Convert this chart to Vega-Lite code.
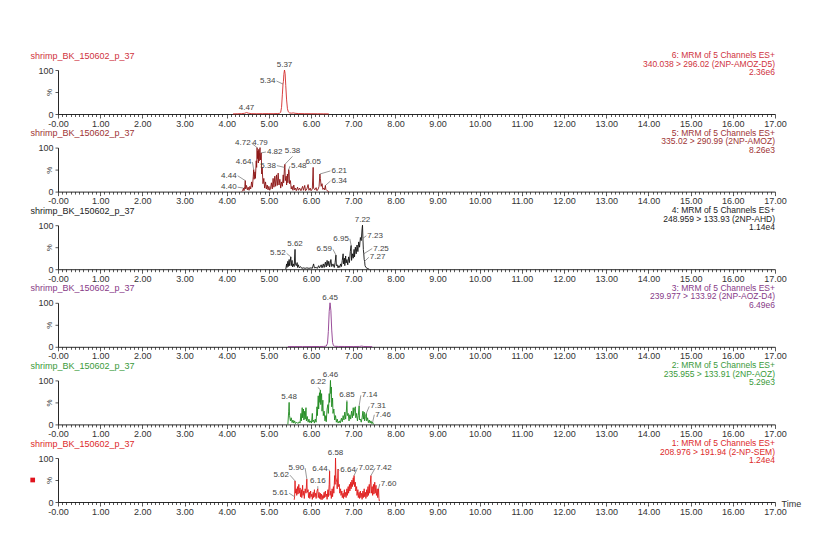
{
  "$schema": "https://vega.github.io/schema/vega-lite/v6.json",
  "padding": {"left": 30, "top": 51, "right": 5, "bottom": 5},
  "bounds": "flush",
  "spacing": 33.6,
  "config": {
    "font": "Liberation Sans",
    "view": {"stroke": null},
    "axis": {"grid": false, "domainColor": "#111", "domainWidth": 0.9, "tickColor": "#111", "tickWidth": 0.7, "labelColor": "#333", "labelFontSize": 9, "labelFont": "Liberation Sans", "titleFont": "Liberation Sans", "titleFontWeight": "normal", "titleFontSize": 9},
    "axisY": {"tickSize": 3, "labelPadding": 2, "titleAngle": 0, "titleAlign": "left", "titleBaseline": "middle", "titleX": -28, "titleY": -15, "labelOverlap": false},
    "title": {"font": "Liberation Sans", "fontSize": 8.5, "fontWeight": "normal", "anchor": "end", "frame": "group", "baseline": "bottom", "offset": -25.5, "lineHeight": 8.5},
    "text": {"font": "Liberation Sans"}
  },
  "datasets": {
    "p1": [{"t":4.15,"v":0.3},{"t":4.25,"v":0.5},{"t":4.35,"v":0.8},{"t":4.42,"v":1.5},{"t":4.47,"v":3.2},{"t":4.52,"v":1.8},{"t":4.58,"v":0.8},{"t":4.7,"v":0.6},{"t":4.85,"v":0.7},{"t":5.0,"v":0.8},{"t":5.1,"v":0.7},{"t":5.2,"v":1.0},{"t":5.25,"v":1.5},{"t":5.28,"v":4},{"t":5.30,"v":15},{"t":5.32,"v":45},{"t":5.335,"v":68},{"t":5.345,"v":74},{"t":5.355,"v":90},{"t":5.37,"v":100},{"t":5.385,"v":92},{"t":5.40,"v":65},{"t":5.42,"v":32},{"t":5.44,"v":12},{"t":5.46,"v":5},{"t":5.49,"v":2.5},{"t":5.53,"v":1.8},{"t":5.58,"v":2.5},{"t":5.62,"v":1.6},{"t":5.7,"v":1.0},{"t":5.85,"v":0.7},{"t":6.0,"v":0.6},{"t":6.15,"v":0.5},{"t":6.3,"v":0.4},{"t":6.42,"v":0.3}],
    "p2": [{"t":4.36,"v":0},{"t":4.38,"v":3},{"t":4.40,"v":8},{"t":4.41,"v":2},{"t":4.43,"v":12},{"t":4.44,"v":25},{"t":4.45,"v":6},{"t":4.47,"v":14},{"t":4.49,"v":4},{"t":4.51,"v":10},{"t":4.53,"v":3},{"t":4.55,"v":12},{"t":4.57,"v":6},{"t":4.59,"v":22},{"t":4.61,"v":10},{"t":4.63,"v":35},{"t":4.64,"v":50},{"t":4.65,"v":28},{"t":4.67,"v":45},{"t":4.68,"v":30},{"t":4.70,"v":70},{"t":4.71,"v":55},{"t":4.72,"v":100},{"t":4.73,"v":75},{"t":4.74,"v":92},{"t":4.75,"v":65},{"t":4.76,"v":96},{"t":4.77,"v":70},{"t":4.78,"v":88},{"t":4.79,"v":100},{"t":4.80,"v":72},{"t":4.81,"v":85},{"t":4.82,"v":88},{"t":4.83,"v":40},{"t":4.84,"v":55},{"t":4.86,"v":18},{"t":4.88,"v":30},{"t":4.90,"v":8},{"t":4.92,"v":22},{"t":4.94,"v":6},{"t":4.96,"v":15},{"t":4.98,"v":4},{"t":5.00,"v":12},{"t":5.02,"v":3},{"t":5.04,"v":8},{"t":5.06,"v":20},{"t":5.08,"v":6},{"t":5.10,"v":30},{"t":5.12,"v":10},{"t":5.14,"v":35},{"t":5.16,"v":12},{"t":5.18,"v":38},{"t":5.20,"v":14},{"t":5.22,"v":42},{"t":5.24,"v":15},{"t":5.26,"v":28},{"t":5.28,"v":8},{"t":5.30,"v":22},{"t":5.32,"v":12},{"t":5.34,"v":38},{"t":5.35,"v":20},{"t":5.37,"v":55},{"t":5.38,"v":62},{"t":5.39,"v":25},{"t":5.41,"v":35},{"t":5.42,"v":15},{"t":5.44,"v":40},{"t":5.45,"v":20},{"t":5.47,"v":50},{"t":5.48,"v":45},{"t":5.49,"v":18},{"t":5.51,"v":25},{"t":5.53,"v":6},{"t":5.55,"v":12},{"t":5.57,"v":3},{"t":5.59,"v":15},{"t":5.61,"v":4},{"t":5.63,"v":8},{"t":5.65,"v":2},{"t":5.68,"v":10},{"t":5.70,"v":3},{"t":5.73,"v":8},{"t":5.76,"v":2},{"t":5.80,"v":12},{"t":5.82,"v":3},{"t":5.85,"v":14},{"t":5.87,"v":2},{"t":5.90,"v":6},{"t":5.93,"v":16},{"t":5.95,"v":3},{"t":5.98,"v":8},{"t":6.00,"v":2},{"t":6.03,"v":6},{"t":6.05,"v":55},{"t":6.06,"v":8},{"t":6.09,"v":4},{"t":6.12,"v":9},{"t":6.14,"v":2},{"t":6.17,"v":6},{"t":6.19,"v":12},{"t":6.21,"v":40},{"t":6.22,"v":30},{"t":6.24,"v":12},{"t":6.26,"v":18},{"t":6.28,"v":5},{"t":6.30,"v":8},{"t":6.32,"v":4},{"t":6.34,"v":14},{"t":6.35,"v":5},{"t":6.37,"v":3},{"t":6.40,"v":1},{"t":6.42,"v":0}],
    "p3": [{"t":5.40,"v":0},{"t":5.42,"v":12},{"t":5.43,"v":4},{"t":5.45,"v":18},{"t":5.46,"v":6},{"t":5.48,"v":22},{"t":5.49,"v":8},{"t":5.50,"v":15},{"t":5.52,"v":28},{"t":5.53,"v":8},{"t":5.55,"v":20},{"t":5.56,"v":5},{"t":5.58,"v":12},{"t":5.60,"v":6},{"t":5.62,"v":45},{"t":5.63,"v":10},{"t":5.65,"v":8},{"t":5.67,"v":15},{"t":5.68,"v":4},{"t":5.70,"v":10},{"t":5.72,"v":3},{"t":5.75,"v":6},{"t":5.78,"v":2},{"t":5.82,"v":3},{"t":5.86,"v":2},{"t":5.90,"v":3},{"t":5.95,"v":2},{"t":6.00,"v":3},{"t":6.03,"v":2},{"t":6.06,"v":12},{"t":6.08,"v":3},{"t":6.12,"v":4},{"t":6.15,"v":2},{"t":6.18,"v":8},{"t":6.20,"v":3},{"t":6.24,"v":10},{"t":6.26,"v":3},{"t":6.29,"v":12},{"t":6.31,"v":4},{"t":6.34,"v":16},{"t":6.36,"v":5},{"t":6.38,"v":20},{"t":6.40,"v":8},{"t":6.42,"v":18},{"t":6.44,"v":5},{"t":6.47,"v":22},{"t":6.49,"v":6},{"t":6.52,"v":12},{"t":6.55,"v":4},{"t":6.57,"v":15},{"t":6.59,"v":32},{"t":6.60,"v":8},{"t":6.62,"v":10},{"t":6.64,"v":3},{"t":6.66,"v":8},{"t":6.68,"v":4},{"t":6.70,"v":12},{"t":6.72,"v":6},{"t":6.74,"v":20},{"t":6.76,"v":35},{"t":6.77,"v":12},{"t":6.79,"v":25},{"t":6.80,"v":8},{"t":6.82,"v":30},{"t":6.83,"v":14},{"t":6.85,"v":22},{"t":6.87,"v":10},{"t":6.89,"v":28},{"t":6.91,"v":15},{"t":6.93,"v":40},{"t":6.95,"v":54},{"t":6.96,"v":20},{"t":6.98,"v":35},{"t":7.00,"v":25},{"t":7.02,"v":45},{"t":7.03,"v":28},{"t":7.05,"v":50},{"t":7.07,"v":35},{"t":7.09,"v":55},{"t":7.11,"v":40},{"t":7.13,"v":62},{"t":7.15,"v":50},{"t":7.17,"v":72},{"t":7.19,"v":65},{"t":7.21,"v":92},{"t":7.22,"v":100},{"t":7.23,"v":70},{"t":7.24,"v":45},{"t":7.25,"v":35},{"t":7.26,"v":22},{"t":7.27,"v":18},{"t":7.28,"v":8},{"t":7.30,"v":4},{"t":7.33,"v":2},{"t":7.36,"v":1},{"t":7.38,"v":0}],
    "p4": [{"t":5.45,"v":0.4},{"t":5.6,"v":0.6},{"t":5.8,"v":0.5},{"t":6.0,"v":0.6},{"t":6.2,"v":0.7},{"t":6.3,"v":0.8},{"t":6.36,"v":1.5},{"t":6.39,"v":8},{"t":6.41,"v":35},{"t":6.43,"v":80},{"t":6.45,"v":100},{"t":6.47,"v":82},{"t":6.49,"v":38},{"t":6.51,"v":10},{"t":6.53,"v":3},{"t":6.56,"v":1.2},{"t":6.65,"v":0.8},{"t":6.8,"v":0.7},{"t":7.0,"v":0.6},{"t":7.15,"v":0.8},{"t":7.2,"v":1.6},{"t":7.25,"v":0.7},{"t":7.35,"v":0.5},{"t":7.45,"v":0.4}],
    "p5": [{"t":5.45,"v":0},{"t":5.47,"v":30},{"t":5.48,"v":50},{"t":5.49,"v":20},{"t":5.51,"v":8},{"t":5.53,"v":15},{"t":5.55,"v":4},{"t":5.57,"v":10},{"t":5.59,"v":3},{"t":5.61,"v":8},{"t":5.63,"v":2},{"t":5.66,"v":5},{"t":5.69,"v":2},{"t":5.72,"v":6},{"t":5.74,"v":3},{"t":5.76,"v":25},{"t":5.77,"v":8},{"t":5.79,"v":38},{"t":5.80,"v":15},{"t":5.82,"v":35},{"t":5.83,"v":10},{"t":5.85,"v":30},{"t":5.86,"v":12},{"t":5.88,"v":38},{"t":5.89,"v":8},{"t":5.91,"v":18},{"t":5.93,"v":5},{"t":5.95,"v":12},{"t":5.97,"v":4},{"t":5.99,"v":8},{"t":6.01,"v":3},{"t":6.03,"v":25},{"t":6.04,"v":6},{"t":6.06,"v":10},{"t":6.08,"v":3},{"t":6.10,"v":12},{"t":6.12,"v":5},{"t":6.14,"v":40},{"t":6.15,"v":20},{"t":6.17,"v":65},{"t":6.18,"v":35},{"t":6.20,"v":72},{"t":6.21,"v":50},{"t":6.22,"v":78},{"t":6.23,"v":45},{"t":6.25,"v":70},{"t":6.26,"v":30},{"t":6.28,"v":55},{"t":6.29,"v":20},{"t":6.31,"v":30},{"t":6.33,"v":8},{"t":6.35,"v":20},{"t":6.36,"v":6},{"t":6.38,"v":35},{"t":6.40,"v":45},{"t":6.41,"v":25},{"t":6.43,"v":70},{"t":6.44,"v":50},{"t":6.46,"v":100},{"t":6.47,"v":70},{"t":6.48,"v":85},{"t":6.49,"v":40},{"t":6.51,"v":60},{"t":6.52,"v":25},{"t":6.54,"v":35},{"t":6.56,"v":10},{"t":6.58,"v":20},{"t":6.60,"v":5},{"t":6.62,"v":12},{"t":6.64,"v":3},{"t":6.67,"v":8},{"t":6.69,"v":3},{"t":6.72,"v":14},{"t":6.74,"v":6},{"t":6.76,"v":20},{"t":6.78,"v":10},{"t":6.80,"v":28},{"t":6.82,"v":12},{"t":6.84,"v":35},{"t":6.85,"v":52},{"t":6.86,"v":20},{"t":6.88,"v":25},{"t":6.90,"v":8},{"t":6.92,"v":22},{"t":6.94,"v":12},{"t":6.96,"v":30},{"t":6.98,"v":15},{"t":7.00,"v":38},{"t":7.01,"v":20},{"t":7.03,"v":35},{"t":7.05,"v":40},{"t":7.06,"v":15},{"t":7.08,"v":25},{"t":7.10,"v":8},{"t":7.12,"v":20},{"t":7.14,"v":42},{"t":7.15,"v":10},{"t":7.17,"v":12},{"t":7.19,"v":5},{"t":7.21,"v":15},{"t":7.23,"v":30},{"t":7.24,"v":12},{"t":7.26,"v":28},{"t":7.27,"v":8},{"t":7.29,"v":18},{"t":7.31,"v":25},{"t":7.32,"v":8},{"t":7.34,"v":15},{"t":7.36,"v":4},{"t":7.38,"v":10},{"t":7.40,"v":3},{"t":7.42,"v":8},{"t":7.44,"v":2},{"t":7.46,"v":5},{"t":7.48,"v":0}],
    "p6": [{"t":5.60,"v":5},{"t":5.61,"v":12},{"t":5.62,"v":48},{"t":5.63,"v":20},{"t":5.65,"v":30},{"t":5.66,"v":15},{"t":5.68,"v":35},{"t":5.69,"v":18},{"t":5.71,"v":40},{"t":5.72,"v":20},{"t":5.74,"v":32},{"t":5.75,"v":12},{"t":5.77,"v":28},{"t":5.78,"v":10},{"t":5.80,"v":38},{"t":5.81,"v":15},{"t":5.83,"v":25},{"t":5.84,"v":8},{"t":5.86,"v":30},{"t":5.88,"v":20},{"t":5.90,"v":52},{"t":5.91,"v":22},{"t":5.93,"v":28},{"t":5.94,"v":10},{"t":5.96,"v":22},{"t":5.97,"v":8},{"t":5.99,"v":25},{"t":6.00,"v":12},{"t":6.02,"v":18},{"t":6.03,"v":6},{"t":6.05,"v":22},{"t":6.06,"v":10},{"t":6.08,"v":28},{"t":6.09,"v":12},{"t":6.11,"v":20},{"t":6.12,"v":8},{"t":6.14,"v":25},{"t":6.16,"v":30},{"t":6.17,"v":10},{"t":6.19,"v":22},{"t":6.20,"v":8},{"t":6.22,"v":20},{"t":6.23,"v":6},{"t":6.25,"v":18},{"t":6.26,"v":5},{"t":6.28,"v":15},{"t":6.29,"v":8},{"t":6.31,"v":22},{"t":6.32,"v":10},{"t":6.34,"v":25},{"t":6.35,"v":12},{"t":6.37,"v":18},{"t":6.38,"v":6},{"t":6.40,"v":28},{"t":6.41,"v":12},{"t":6.43,"v":40},{"t":6.44,"v":70},{"t":6.45,"v":15},{"t":6.47,"v":25},{"t":6.48,"v":8},{"t":6.50,"v":30},{"t":6.51,"v":12},{"t":6.53,"v":35},{"t":6.54,"v":20},{"t":6.56,"v":60},{"t":6.57,"v":40},{"t":6.58,"v":100},{"t":6.59,"v":55},{"t":6.61,"v":45},{"t":6.62,"v":30},{"t":6.64,"v":75},{"t":6.65,"v":35},{"t":6.67,"v":40},{"t":6.68,"v":20},{"t":6.70,"v":30},{"t":6.71,"v":15},{"t":6.73,"v":25},{"t":6.74,"v":10},{"t":6.76,"v":20},{"t":6.77,"v":8},{"t":6.79,"v":28},{"t":6.80,"v":12},{"t":6.82,"v":22},{"t":6.83,"v":10},{"t":6.85,"v":30},{"t":6.86,"v":15},{"t":6.88,"v":35},{"t":6.89,"v":20},{"t":6.91,"v":40},{"t":6.92,"v":25},{"t":6.94,"v":45},{"t":6.95,"v":30},{"t":6.97,"v":50},{"t":6.98,"v":35},{"t":7.00,"v":55},{"t":7.01,"v":40},{"t":7.02,"v":60},{"t":7.03,"v":35},{"t":7.05,"v":45},{"t":7.06,"v":25},{"t":7.08,"v":35},{"t":7.09,"v":15},{"t":7.11,"v":28},{"t":7.12,"v":10},{"t":7.14,"v":22},{"t":7.15,"v":8},{"t":7.17,"v":25},{"t":7.18,"v":10},{"t":7.20,"v":20},{"t":7.21,"v":6},{"t":7.23,"v":25},{"t":7.24,"v":10},{"t":7.26,"v":30},{"t":7.27,"v":12},{"t":7.29,"v":22},{"t":7.30,"v":8},{"t":7.32,"v":28},{"t":7.33,"v":12},{"t":7.35,"v":35},{"t":7.36,"v":15},{"t":7.38,"v":40},{"t":7.39,"v":20},{"t":7.41,"v":50},{"t":7.42,"v":60},{"t":7.43,"v":20},{"t":7.45,"v":35},{"t":7.46,"v":15},{"t":7.48,"v":40},{"t":7.49,"v":18},{"t":7.51,"v":45},{"t":7.52,"v":20},{"t":7.54,"v":38},{"t":7.55,"v":15},{"t":7.57,"v":30},{"t":7.58,"v":10},{"t":7.60,"v":30},{"t":7.61,"v":8},{"t":7.62,"v":2}],
    "labels": [
      {"panel":1,"t":5.37,"v":100,"lt":5.37,"lv":100,"side":"above","label":"5.37"},
      {"panel":1,"t":5.335,"v":68,"lt":5.18,"lv":75,"side":"left","label":"5.34"},
      {"panel":1,"t":4.47,"v":3.2,"lt":4.47,"lv":3.2,"side":"above","label":"4.47"},
      {"panel":2,"t":4.72,"v":100,"lt":4.59,"lv":110,"side":"left","label":"4.72"},
      {"panel":2,"t":4.79,"v":100,"lt":4.79,"lv":100,"side":"above","label":"4.79"},
      {"panel":2,"t":4.82,"v":88,"lt":4.93,"lv":90,"side":"right","label":"4.82"},
      {"panel":2,"t":5.38,"v":62,"lt":5.56,"lv":80,"side":"above","label":"5.38"},
      {"panel":2,"t":4.64,"v":50,"lt":4.61,"lv":67,"side":"left","label":"4.64"},
      {"panel":2,"t":5.37,"v":55,"lt":5.19,"lv":59,"side":"left","label":"5.38"},
      {"panel":2,"t":5.47,"v":50,"lt":5.50,"lv":58,"side":"right","label":"5.48"},
      {"panel":2,"t":6.05,"v":55,"lt":6.05,"lv":55,"side":"above","label":"6.05"},
      {"panel":2,"t":6.21,"v":40,"lt":6.46,"lv":47,"side":"right","label":"6.21"},
      {"panel":2,"t":6.34,"v":14,"lt":6.46,"lv":24,"side":"right","label":"6.34"},
      {"panel":2,"t":4.44,"v":25,"lt":4.26,"lv":36,"side":"left","label":"4.44"},
      {"panel":2,"t":4.40,"v":8,"lt":4.26,"lv":10,"side":"left","label":"4.40"},
      {"panel":3,"t":7.22,"v":100,"lt":7.22,"lv":100,"side":"above","label":"7.22"},
      {"panel":3,"t":7.23,"v":70,"lt":7.31,"lv":76,"side":"right","label":"7.23"},
      {"panel":3,"t":6.95,"v":54,"lt":6.92,"lv":69,"side":"left","label":"6.95"},
      {"panel":3,"t":6.59,"v":32,"lt":6.52,"lv":45,"side":"left","label":"6.59"},
      {"panel":3,"t":5.62,"v":45,"lt":5.62,"lv":45,"side":"above","label":"5.62"},
      {"panel":3,"t":5.52,"v":28,"lt":5.42,"lv":36,"side":"left","label":"5.52"},
      {"panel":3,"t":7.25,"v":35,"lt":7.45,"lv":47,"side":"right","label":"7.25"},
      {"panel":3,"t":7.27,"v":18,"lt":7.37,"lv":27,"side":"right","label":"7.27"},
      {"panel":4,"t":6.45,"v":100,"lt":6.45,"lv":100,"side":"above","label":"6.45"},
      {"panel":5,"t":6.46,"v":100,"lt":6.46,"lv":100,"side":"above","label":"6.46"},
      {"panel":5,"t":6.22,"v":78,"lt":6.17,"lv":84,"side":"above","label":"6.22"},
      {"panel":5,"t":5.48,"v":50,"lt":5.48,"lv":50,"side":"above","label":"5.48"},
      {"panel":5,"t":6.85,"v":52,"lt":6.85,"lv":55,"side":"above","label":"6.85"},
      {"panel":5,"t":7.14,"v":42,"lt":7.18,"lv":66,"side":"right","label":"7.14"},
      {"panel":5,"t":7.31,"v":25,"lt":7.38,"lv":41,"side":"right","label":"7.31"},
      {"panel":5,"t":7.46,"v":5,"lt":7.50,"lv":22,"side":"right","label":"7.46"},
      {"panel":6,"t":6.58,"v":100,"lt":6.58,"lv":100,"side":"above","label":"6.58"},
      {"panel":6,"t":6.64,"v":75,"lt":6.67,"lv":72,"side":"right","label":"6.64"},
      {"panel":6,"t":6.44,"v":70,"lt":6.42,"lv":74,"side":"left","label":"6.44"},
      {"panel":6,"t":5.90,"v":52,"lt":5.86,"lv":77,"side":"left","label":"5.90"},
      {"panel":6,"t":5.62,"v":48,"lt":5.50,"lv":61,"side":"left","label":"5.62"},
      {"panel":6,"t":6.16,"v":30,"lt":6.16,"lv":36,"side":"above","label":"6.16"},
      {"panel":6,"t":5.61,"v":12,"lt":5.48,"lv":20,"side":"left","label":"5.61"},
      {"panel":6,"t":7.02,"v":60,"lt":7.10,"lv":77,"side":"right","label":"7.02"},
      {"panel":6,"t":7.42,"v":60,"lt":7.52,"lv":77,"side":"right","label":"7.42"},
      {"panel":6,"t":7.60,"v":30,"lt":7.63,"lv":41,"side":"right","label":"7.60"}
    ]
  },
  "vconcat": [
    {
      "width": 717, "height": 44,
      "title": {"text": ["6: MRM of 5 Channels ES+", "340.038 > 296.02 (2NP-AMOZ-D5)", "2.36e6"], "color": "#cf3340"},
      "resolve": {"axis": {"x": "independent", "y": "independent"}},
      "layer": [
        {"layer": [
          {"data": {"name": "p1"}, "mark": {"type": "line", "color": "#d42a2a", "strokeWidth": 0.9},
           "encoding": {
             "x": {"field": "t", "type": "quantitative", "scale": {"domain": [0, 17], "nice": false, "zero": false},
                   "axis": {"orient": "bottom", "values": [0,1,2,3,4,5,6,7,8,9,10,11,12,13,14,15,16,17], "labelExpr": "datum.value == 0 ? '-0.00' : format(datum.value, '.2f')", "tickSize": 4, "labelOverlap": false, "labelFlush": false, "labelBound": false, "labelPadding": 1, "title": null}},
             "y": {"field": "v", "type": "quantitative", "scale": {"domain": [0, 100], "nice": false},
                   "axis": {"orient": "left", "values": [0, 100], "labelOverlap": false, "title": "shrimp_BK_150602_p_37", "titleColor": "#cf3340"}}
           }},
          {"data": {"name": "labels"}, "transform": [{"filter": "datum.panel == 1"}], "mark": {"type": "rule", "color": "#555", "strokeWidth": 0.6},
           "encoding": {"x": {"field": "t", "type": "quantitative"}, "y": {"field": "v", "type": "quantitative"}, "x2": {"field": "lt"}, "y2": {"field": "lv"}}},
          {"data": {"name": "labels"}, "transform": [{"filter": "datum.panel == 1 && datum.side == 'above'"}], "mark": {"type": "text", "align": "center", "baseline": "bottom", "dy": -1, "fontSize": 8, "color": "#444"},
           "encoding": {"x": {"field": "lt", "type": "quantitative"}, "y": {"field": "lv", "type": "quantitative"}, "text": {"field": "label"}}},
          {"data": {"name": "labels"}, "transform": [{"filter": "datum.panel == 1 && datum.side == 'left'"}], "mark": {"type": "text", "align": "right", "baseline": "middle", "dx": -1, "fontSize": 8, "color": "#444"},
           "encoding": {"x": {"field": "lt", "type": "quantitative"}, "y": {"field": "lv", "type": "quantitative"}, "text": {"field": "label"}}}
        ]},
        {"data": {"name": "p1"}, "mark": {"type": "point", "opacity": 0},
         "encoding": {"x": {"field": "t", "type": "quantitative", "axis": {"orient": "bottom", "values": [0.1,0.2,0.3,0.4,0.5,0.6,0.7,0.8,0.9,1.1,1.2,1.3,1.4,1.5,1.6,1.7,1.8,1.9,2.1,2.2,2.3,2.4,2.5,2.6,2.7,2.8,2.9,3.1,3.2,3.3,3.4,3.5,3.6,3.7,3.8,3.9,4.1,4.2,4.3,4.4,4.5,4.6,4.7,4.8,4.9,5.1,5.2,5.3,5.4,5.5,5.6,5.7,5.8,5.9,6.1,6.2,6.3,6.4,6.5,6.6,6.7,6.8,6.9,7.1,7.2,7.3,7.4,7.5,7.6,7.7,7.8,7.9,8.1,8.2,8.3,8.4,8.5,8.6,8.7,8.8,8.9,9.1,9.2,9.3,9.4,9.5,9.6,9.7,9.8,9.9,10.1,10.2,10.3,10.4,10.5,10.6,10.7,10.8,10.9,11.1,11.2,11.3,11.4,11.5,11.6,11.7,11.8,11.9,12.1,12.2,12.3,12.4,12.5,12.6,12.7,12.8,12.9,13.1,13.2,13.3,13.4,13.5,13.6,13.7,13.8,13.9,14.1,14.2,14.3,14.4,14.5,14.6,14.7,14.8,14.9,15.1,15.2,15.3,15.4,15.5,15.6,15.7,15.8,15.9,16.1,16.2,16.3,16.4,16.5,16.6,16.7,16.8,16.9], "labels": false, "domain": false, "tickSize": 2.5, "title": null}},
                      "y": {"field": "v", "type": "quantitative", "axis": {"orient": "left", "values": [50], "labelExpr": "'%'", "labelAngle": -90, "labelAlign": "center", "labelBaseline": "bottom", "labelPadding": 2, "labelFontSize": 8, "domain": false, "tickSize": 3, "title": null, "labelOverlap": false}}}}
      ]
    },
    {
      "width": 717, "height": 44,
      "title": {"text": ["5: MRM of 5 Channels ES+", "335.02 > 290.99 (2NP-AMOZ)", "8.26e3"], "color": "#9e3434"},
      "resolve": {"axis": {"x": "independent", "y": "independent"}},
      "layer": [
        {"layer": [
          {"data": {"name": "p2"}, "mark": {"type": "line", "color": "#8b1212", "strokeWidth": 0.9},
           "encoding": {
             "x": {"field": "t", "type": "quantitative", "scale": {"domain": [0, 17], "nice": false, "zero": false},
                   "axis": {"orient": "bottom", "values": [0,1,2,3,4,5,6,7,8,9,10,11,12,13,14,15,16,17], "labelExpr": "datum.value == 0 ? '-0.00' : format(datum.value, '.2f')", "tickSize": 4, "labelOverlap": false, "labelFlush": false, "labelBound": false, "labelPadding": 1, "title": null}},
             "y": {"field": "v", "type": "quantitative", "scale": {"domain": [0, 100], "nice": false},
                   "axis": {"orient": "left", "values": [0, 100], "labelOverlap": false, "title": "shrimp_BK_150602_p_37", "titleColor": "#9e3434"}}
           }},
          {"data": {"name": "labels"}, "transform": [{"filter": "datum.panel == 2"}], "mark": {"type": "rule", "color": "#555", "strokeWidth": 0.6},
           "encoding": {"x": {"field": "t", "type": "quantitative"}, "y": {"field": "v", "type": "quantitative"}, "x2": {"field": "lt"}, "y2": {"field": "lv"}}},
          {"data": {"name": "labels"}, "transform": [{"filter": "datum.panel == 2 && datum.side == 'above'"}], "mark": {"type": "text", "align": "center", "baseline": "bottom", "dy": -1, "fontSize": 8, "color": "#444"},
           "encoding": {"x": {"field": "lt", "type": "quantitative"}, "y": {"field": "lv", "type": "quantitative"}, "text": {"field": "label"}}},
          {"data": {"name": "labels"}, "transform": [{"filter": "datum.panel == 2 && datum.side == 'left'"}], "mark": {"type": "text", "align": "right", "baseline": "middle", "dx": -1, "fontSize": 8, "color": "#444"},
           "encoding": {"x": {"field": "lt", "type": "quantitative"}, "y": {"field": "lv", "type": "quantitative"}, "text": {"field": "label"}}},
          {"data": {"name": "labels"}, "transform": [{"filter": "datum.panel == 2 && datum.side == 'right'"}], "mark": {"type": "text", "align": "left", "baseline": "middle", "dx": 1, "fontSize": 8, "color": "#444"},
           "encoding": {"x": {"field": "lt", "type": "quantitative"}, "y": {"field": "lv", "type": "quantitative"}, "text": {"field": "label"}}}
        ]},
        {"data": {"name": "p2"}, "mark": {"type": "point", "opacity": 0},
         "encoding": {"x": {"field": "t", "type": "quantitative", "axis": {"orient": "bottom", "values": [0.1,0.2,0.3,0.4,0.5,0.6,0.7,0.8,0.9,1.1,1.2,1.3,1.4,1.5,1.6,1.7,1.8,1.9,2.1,2.2,2.3,2.4,2.5,2.6,2.7,2.8,2.9,3.1,3.2,3.3,3.4,3.5,3.6,3.7,3.8,3.9,4.1,4.2,4.3,4.4,4.5,4.6,4.7,4.8,4.9,5.1,5.2,5.3,5.4,5.5,5.6,5.7,5.8,5.9,6.1,6.2,6.3,6.4,6.5,6.6,6.7,6.8,6.9,7.1,7.2,7.3,7.4,7.5,7.6,7.7,7.8,7.9,8.1,8.2,8.3,8.4,8.5,8.6,8.7,8.8,8.9,9.1,9.2,9.3,9.4,9.5,9.6,9.7,9.8,9.9,10.1,10.2,10.3,10.4,10.5,10.6,10.7,10.8,10.9,11.1,11.2,11.3,11.4,11.5,11.6,11.7,11.8,11.9,12.1,12.2,12.3,12.4,12.5,12.6,12.7,12.8,12.9,13.1,13.2,13.3,13.4,13.5,13.6,13.7,13.8,13.9,14.1,14.2,14.3,14.4,14.5,14.6,14.7,14.8,14.9,15.1,15.2,15.3,15.4,15.5,15.6,15.7,15.8,15.9,16.1,16.2,16.3,16.4,16.5,16.6,16.7,16.8,16.9], "labels": false, "domain": false, "tickSize": 2.5, "title": null}},
                      "y": {"field": "v", "type": "quantitative", "axis": {"orient": "left", "values": [50], "labelExpr": "'%'", "labelAngle": -90, "labelAlign": "center", "labelBaseline": "bottom", "labelPadding": 2, "labelFontSize": 8, "domain": false, "tickSize": 3, "title": null, "labelOverlap": false}}}}
      ]
    },
    {
      "width": 717, "height": 44,
      "title": {"text": ["4: MRM of 5 Channels ES+", "248.959 > 133.93 (2NP-AHD)", "1.14e4"], "color": "#222"},
      "resolve": {"axis": {"x": "independent", "y": "independent"}},
      "layer": [
        {"layer": [
          {"data": {"name": "p3"}, "mark": {"type": "line", "color": "#111", "strokeWidth": 0.9},
           "encoding": {
             "x": {"field": "t", "type": "quantitative", "scale": {"domain": [0, 17], "nice": false, "zero": false},
                   "axis": {"orient": "bottom", "values": [0,1,2,3,4,5,6,7,8,9,10,11,12,13,14,15,16,17], "labelExpr": "datum.value == 0 ? '-0.00' : format(datum.value, '.2f')", "tickSize": 4, "labelOverlap": false, "labelFlush": false, "labelBound": false, "labelPadding": 1, "title": null}},
             "y": {"field": "v", "type": "quantitative", "scale": {"domain": [0, 100], "nice": false},
                   "axis": {"orient": "left", "values": [0, 100], "labelOverlap": false, "title": "shrimp_BK_150602_p_37", "titleColor": "#222"}}
           }},
          {"data": {"name": "labels"}, "transform": [{"filter": "datum.panel == 3"}], "mark": {"type": "rule", "color": "#555", "strokeWidth": 0.6},
           "encoding": {"x": {"field": "t", "type": "quantitative"}, "y": {"field": "v", "type": "quantitative"}, "x2": {"field": "lt"}, "y2": {"field": "lv"}}},
          {"data": {"name": "labels"}, "transform": [{"filter": "datum.panel == 3 && datum.side == 'above'"}], "mark": {"type": "text", "align": "center", "baseline": "bottom", "dy": -1, "fontSize": 8, "color": "#444"},
           "encoding": {"x": {"field": "lt", "type": "quantitative"}, "y": {"field": "lv", "type": "quantitative"}, "text": {"field": "label"}}},
          {"data": {"name": "labels"}, "transform": [{"filter": "datum.panel == 3 && datum.side == 'left'"}], "mark": {"type": "text", "align": "right", "baseline": "middle", "dx": -1, "fontSize": 8, "color": "#444"},
           "encoding": {"x": {"field": "lt", "type": "quantitative"}, "y": {"field": "lv", "type": "quantitative"}, "text": {"field": "label"}}},
          {"data": {"name": "labels"}, "transform": [{"filter": "datum.panel == 3 && datum.side == 'right'"}], "mark": {"type": "text", "align": "left", "baseline": "middle", "dx": 1, "fontSize": 8, "color": "#444"},
           "encoding": {"x": {"field": "lt", "type": "quantitative"}, "y": {"field": "lv", "type": "quantitative"}, "text": {"field": "label"}}}
        ]},
        {"data": {"name": "p3"}, "mark": {"type": "point", "opacity": 0},
         "encoding": {"x": {"field": "t", "type": "quantitative", "axis": {"orient": "bottom", "values": [0.1,0.2,0.3,0.4,0.5,0.6,0.7,0.8,0.9,1.1,1.2,1.3,1.4,1.5,1.6,1.7,1.8,1.9,2.1,2.2,2.3,2.4,2.5,2.6,2.7,2.8,2.9,3.1,3.2,3.3,3.4,3.5,3.6,3.7,3.8,3.9,4.1,4.2,4.3,4.4,4.5,4.6,4.7,4.8,4.9,5.1,5.2,5.3,5.4,5.5,5.6,5.7,5.8,5.9,6.1,6.2,6.3,6.4,6.5,6.6,6.7,6.8,6.9,7.1,7.2,7.3,7.4,7.5,7.6,7.7,7.8,7.9,8.1,8.2,8.3,8.4,8.5,8.6,8.7,8.8,8.9,9.1,9.2,9.3,9.4,9.5,9.6,9.7,9.8,9.9,10.1,10.2,10.3,10.4,10.5,10.6,10.7,10.8,10.9,11.1,11.2,11.3,11.4,11.5,11.6,11.7,11.8,11.9,12.1,12.2,12.3,12.4,12.5,12.6,12.7,12.8,12.9,13.1,13.2,13.3,13.4,13.5,13.6,13.7,13.8,13.9,14.1,14.2,14.3,14.4,14.5,14.6,14.7,14.8,14.9,15.1,15.2,15.3,15.4,15.5,15.6,15.7,15.8,15.9,16.1,16.2,16.3,16.4,16.5,16.6,16.7,16.8,16.9], "labels": false, "domain": false, "tickSize": 2.5, "title": null}},
                      "y": {"field": "v", "type": "quantitative", "axis": {"orient": "left", "values": [50], "labelExpr": "'%'", "labelAngle": -90, "labelAlign": "center", "labelBaseline": "bottom", "labelPadding": 2, "labelFontSize": 8, "domain": false, "tickSize": 3, "title": null, "labelOverlap": false}}}}
      ]
    },
    {
      "width": 717, "height": 44,
      "title": {"text": ["3: MRM of 5 Channels ES+", "239.977 > 133.92 (2NP-AOZ-D4)", "6.49e6"], "color": "#873a87"},
      "resolve": {"axis": {"x": "independent", "y": "independent"}},
      "layer": [
        {"layer": [
          {"data": {"name": "p4"}, "mark": {"type": "line", "color": "#8e3a8e", "strokeWidth": 0.9},
           "encoding": {
             "x": {"field": "t", "type": "quantitative", "scale": {"domain": [0, 17], "nice": false, "zero": false},
                   "axis": {"orient": "bottom", "values": [0,1,2,3,4,5,6,7,8,9,10,11,12,13,14,15,16,17], "labelExpr": "datum.value == 0 ? '-0.00' : format(datum.value, '.2f')", "tickSize": 4, "labelOverlap": false, "labelFlush": false, "labelBound": false, "labelPadding": 1, "title": null}},
             "y": {"field": "v", "type": "quantitative", "scale": {"domain": [0, 100], "nice": false},
                   "axis": {"orient": "left", "values": [0, 100], "labelOverlap": false, "title": "shrimp_BK_150602_p_37", "titleColor": "#873a87"}}
           }},
          {"data": {"name": "labels"}, "transform": [{"filter": "datum.panel == 4 && datum.side == 'above'"}], "mark": {"type": "text", "align": "center", "baseline": "bottom", "dy": -1, "fontSize": 8, "color": "#444"},
           "encoding": {"x": {"field": "lt", "type": "quantitative"}, "y": {"field": "lv", "type": "quantitative"}, "text": {"field": "label"}}}
        ]},
        {"data": {"name": "p4"}, "mark": {"type": "point", "opacity": 0},
         "encoding": {"x": {"field": "t", "type": "quantitative", "axis": {"orient": "bottom", "values": [0.1,0.2,0.3,0.4,0.5,0.6,0.7,0.8,0.9,1.1,1.2,1.3,1.4,1.5,1.6,1.7,1.8,1.9,2.1,2.2,2.3,2.4,2.5,2.6,2.7,2.8,2.9,3.1,3.2,3.3,3.4,3.5,3.6,3.7,3.8,3.9,4.1,4.2,4.3,4.4,4.5,4.6,4.7,4.8,4.9,5.1,5.2,5.3,5.4,5.5,5.6,5.7,5.8,5.9,6.1,6.2,6.3,6.4,6.5,6.6,6.7,6.8,6.9,7.1,7.2,7.3,7.4,7.5,7.6,7.7,7.8,7.9,8.1,8.2,8.3,8.4,8.5,8.6,8.7,8.8,8.9,9.1,9.2,9.3,9.4,9.5,9.6,9.7,9.8,9.9,10.1,10.2,10.3,10.4,10.5,10.6,10.7,10.8,10.9,11.1,11.2,11.3,11.4,11.5,11.6,11.7,11.8,11.9,12.1,12.2,12.3,12.4,12.5,12.6,12.7,12.8,12.9,13.1,13.2,13.3,13.4,13.5,13.6,13.7,13.8,13.9,14.1,14.2,14.3,14.4,14.5,14.6,14.7,14.8,14.9,15.1,15.2,15.3,15.4,15.5,15.6,15.7,15.8,15.9,16.1,16.2,16.3,16.4,16.5,16.6,16.7,16.8,16.9], "labels": false, "domain": false, "tickSize": 2.5, "title": null}},
                      "y": {"field": "v", "type": "quantitative", "axis": {"orient": "left", "values": [50], "labelExpr": "'%'", "labelAngle": -90, "labelAlign": "center", "labelBaseline": "bottom", "labelPadding": 2, "labelFontSize": 8, "domain": false, "tickSize": 3, "title": null, "labelOverlap": false}}}}
      ]
    },
    {
      "width": 717, "height": 44,
      "title": {"text": ["2: MRM of 5 Channels ES+", "235.955 > 133.91 (2NP-AOZ)", "5.29e3"], "color": "#3a9a3a"},
      "resolve": {"axis": {"x": "independent", "y": "independent"}},
      "layer": [
        {"layer": [
          {"data": {"name": "p5"}, "mark": {"type": "line", "color": "#1f8a1f", "strokeWidth": 0.9},
           "encoding": {
             "x": {"field": "t", "type": "quantitative", "scale": {"domain": [0, 17], "nice": false, "zero": false},
                   "axis": {"orient": "bottom", "values": [0,1,2,3,4,5,6,7,8,9,10,11,12,13,14,15,16,17], "labelExpr": "datum.value == 0 ? '-0.00' : format(datum.value, '.2f')", "tickSize": 4, "labelOverlap": false, "labelFlush": false, "labelBound": false, "labelPadding": 1, "title": null}},
             "y": {"field": "v", "type": "quantitative", "scale": {"domain": [0, 100], "nice": false},
                   "axis": {"orient": "left", "values": [0, 100], "labelOverlap": false, "title": "shrimp_BK_150602_p_37", "titleColor": "#3a9a3a"}}
           }},
          {"data": {"name": "labels"}, "transform": [{"filter": "datum.panel == 5"}], "mark": {"type": "rule", "color": "#555", "strokeWidth": 0.6},
           "encoding": {"x": {"field": "t", "type": "quantitative"}, "y": {"field": "v", "type": "quantitative"}, "x2": {"field": "lt"}, "y2": {"field": "lv"}}},
          {"data": {"name": "labels"}, "transform": [{"filter": "datum.panel == 5 && datum.side == 'above'"}], "mark": {"type": "text", "align": "center", "baseline": "bottom", "dy": -1, "fontSize": 8, "color": "#444"},
           "encoding": {"x": {"field": "lt", "type": "quantitative"}, "y": {"field": "lv", "type": "quantitative"}, "text": {"field": "label"}}},
          {"data": {"name": "labels"}, "transform": [{"filter": "datum.panel == 5 && datum.side == 'right'"}], "mark": {"type": "text", "align": "left", "baseline": "middle", "dx": 1, "fontSize": 8, "color": "#444"},
           "encoding": {"x": {"field": "lt", "type": "quantitative"}, "y": {"field": "lv", "type": "quantitative"}, "text": {"field": "label"}}}
        ]},
        {"data": {"name": "p5"}, "mark": {"type": "point", "opacity": 0},
         "encoding": {"x": {"field": "t", "type": "quantitative", "axis": {"orient": "bottom", "values": [0.1,0.2,0.3,0.4,0.5,0.6,0.7,0.8,0.9,1.1,1.2,1.3,1.4,1.5,1.6,1.7,1.8,1.9,2.1,2.2,2.3,2.4,2.5,2.6,2.7,2.8,2.9,3.1,3.2,3.3,3.4,3.5,3.6,3.7,3.8,3.9,4.1,4.2,4.3,4.4,4.5,4.6,4.7,4.8,4.9,5.1,5.2,5.3,5.4,5.5,5.6,5.7,5.8,5.9,6.1,6.2,6.3,6.4,6.5,6.6,6.7,6.8,6.9,7.1,7.2,7.3,7.4,7.5,7.6,7.7,7.8,7.9,8.1,8.2,8.3,8.4,8.5,8.6,8.7,8.8,8.9,9.1,9.2,9.3,9.4,9.5,9.6,9.7,9.8,9.9,10.1,10.2,10.3,10.4,10.5,10.6,10.7,10.8,10.9,11.1,11.2,11.3,11.4,11.5,11.6,11.7,11.8,11.9,12.1,12.2,12.3,12.4,12.5,12.6,12.7,12.8,12.9,13.1,13.2,13.3,13.4,13.5,13.6,13.7,13.8,13.9,14.1,14.2,14.3,14.4,14.5,14.6,14.7,14.8,14.9,15.1,15.2,15.3,15.4,15.5,15.6,15.7,15.8,15.9,16.1,16.2,16.3,16.4,16.5,16.6,16.7,16.8,16.9], "labels": false, "domain": false, "tickSize": 2.5, "title": null}},
                      "y": {"field": "v", "type": "quantitative", "axis": {"orient": "left", "values": [50], "labelExpr": "'%'", "labelAngle": -90, "labelAlign": "center", "labelBaseline": "bottom", "labelPadding": 2, "labelFontSize": 8, "domain": false, "tickSize": 3, "title": null, "labelOverlap": false}}}}
      ]
    },
    {
      "width": 717, "height": 44,
      "title": {"text": ["1: MRM of 5 Channels ES+", "208.976 > 191.94 (2-NP-SEM)", "1.24e4"], "color": "#dd2a2a"},
      "resolve": {"axis": {"x": "independent", "y": "independent"}},
      "layer": [
        {"layer": [
          {"data": {"name": "p6"}, "mark": {"type": "line", "color": "#e01b1b", "strokeWidth": 0.9},
           "encoding": {
             "x": {"field": "t", "type": "quantitative", "scale": {"domain": [0, 17], "nice": false, "zero": false},
                   "axis": {"orient": "bottom", "values": [0,1,2,3,4,5,6,7,8,9,10,11,12,13,14,15,16,17], "labelExpr": "datum.value == 0 ? '-0.00' : format(datum.value, '.2f')", "tickSize": 4, "labelOverlap": false, "labelFlush": false, "labelBound": false, "labelPadding": 1,
                            "title": "Time", "titleAngle": 0, "titleAlign": "left", "titleBaseline": "middle", "titleX": 723, "titleY": 1, "titleColor": "#333"}},
             "y": {"field": "v", "type": "quantitative", "scale": {"domain": [0, 100], "nice": false},
                   "axis": {"orient": "left", "values": [0, 100], "labelOverlap": false, "title": "shrimp_BK_150602_p_37", "titleColor": "#dd2a2a"}}
           }},
          {"data": {"values": [{"t": -0.6, "v": 50}]}, "mark": {"type": "square", "color": "#e0141e", "size": 22, "opacity": 1, "filled": true},
           "encoding": {"x": {"field": "t", "type": "quantitative"}, "y": {"field": "v", "type": "quantitative"}}},
          {"data": {"name": "labels"}, "transform": [{"filter": "datum.panel == 6"}], "mark": {"type": "rule", "color": "#555", "strokeWidth": 0.6},
           "encoding": {"x": {"field": "t", "type": "quantitative"}, "y": {"field": "v", "type": "quantitative"}, "x2": {"field": "lt"}, "y2": {"field": "lv"}}},
          {"data": {"name": "labels"}, "transform": [{"filter": "datum.panel == 6 && datum.side == 'above'"}], "mark": {"type": "text", "align": "center", "baseline": "bottom", "dy": -1, "fontSize": 8, "color": "#444"},
           "encoding": {"x": {"field": "lt", "type": "quantitative"}, "y": {"field": "lv", "type": "quantitative"}, "text": {"field": "label"}}},
          {"data": {"name": "labels"}, "transform": [{"filter": "datum.panel == 6 && datum.side == 'left'"}], "mark": {"type": "text", "align": "right", "baseline": "middle", "dx": -1, "fontSize": 8, "color": "#444"},
           "encoding": {"x": {"field": "lt", "type": "quantitative"}, "y": {"field": "lv", "type": "quantitative"}, "text": {"field": "label"}}},
          {"data": {"name": "labels"}, "transform": [{"filter": "datum.panel == 6 && datum.side == 'right'"}], "mark": {"type": "text", "align": "left", "baseline": "middle", "dx": 1, "fontSize": 8, "color": "#444"},
           "encoding": {"x": {"field": "lt", "type": "quantitative"}, "y": {"field": "lv", "type": "quantitative"}, "text": {"field": "label"}}}
        ]},
        {"data": {"name": "p6"}, "mark": {"type": "point", "opacity": 0},
         "encoding": {"x": {"field": "t", "type": "quantitative", "axis": {"orient": "bottom", "values": [0.1,0.2,0.3,0.4,0.5,0.6,0.7,0.8,0.9,1.1,1.2,1.3,1.4,1.5,1.6,1.7,1.8,1.9,2.1,2.2,2.3,2.4,2.5,2.6,2.7,2.8,2.9,3.1,3.2,3.3,3.4,3.5,3.6,3.7,3.8,3.9,4.1,4.2,4.3,4.4,4.5,4.6,4.7,4.8,4.9,5.1,5.2,5.3,5.4,5.5,5.6,5.7,5.8,5.9,6.1,6.2,6.3,6.4,6.5,6.6,6.7,6.8,6.9,7.1,7.2,7.3,7.4,7.5,7.6,7.7,7.8,7.9,8.1,8.2,8.3,8.4,8.5,8.6,8.7,8.8,8.9,9.1,9.2,9.3,9.4,9.5,9.6,9.7,9.8,9.9,10.1,10.2,10.3,10.4,10.5,10.6,10.7,10.8,10.9,11.1,11.2,11.3,11.4,11.5,11.6,11.7,11.8,11.9,12.1,12.2,12.3,12.4,12.5,12.6,12.7,12.8,12.9,13.1,13.2,13.3,13.4,13.5,13.6,13.7,13.8,13.9,14.1,14.2,14.3,14.4,14.5,14.6,14.7,14.8,14.9,15.1,15.2,15.3,15.4,15.5,15.6,15.7,15.8,15.9,16.1,16.2,16.3,16.4,16.5,16.6,16.7,16.8,16.9], "labels": false, "domain": false, "tickSize": 2.5, "title": null}},
                      "y": {"field": "v", "type": "quantitative", "axis": {"orient": "left", "values": [50], "labelExpr": "'%'", "labelAngle": -90, "labelAlign": "center", "labelBaseline": "bottom", "labelPadding": 2, "labelFontSize": 8, "domain": false, "tickSize": 3, "title": null, "labelOverlap": false}}}}
      ]
    }
  ]
}
